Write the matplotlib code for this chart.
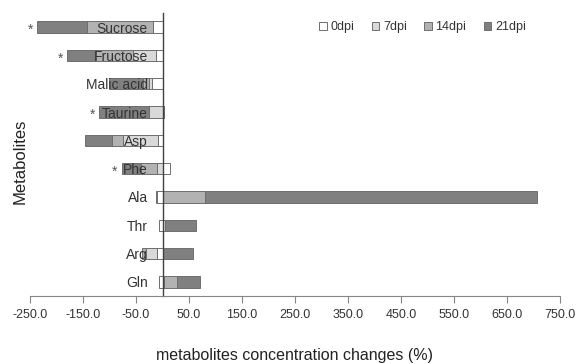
import numpy as np
import matplotlib
matplotlib.use("Agg")
import matplotlib.pyplot as plt
from matplotlib.patches import Patch

plt.rcParams['font.family'] = ['Liberation Sans', 'DejaVu Sans']

metabolites = ["Sucrose", "Fructose", "Malic acid", "Taurine", "Asp",
               "Phe", "Ala", "Thr", "Arg", "Gln"]
series_names = ["0dpi", "7dpi", "14dpi", "21dpi"]

# concentration changes (%) per time point
dpi0 = [-17, -13, -19, 2, -8, 15, -10, -7, -11, -7]
dpi7 = [0, -42, -6, -26, -66, -11, -3, 5, -21, 3]
dpi14 = [-126, -70, -11, 0, -21, -30, 81, 0, -6, 25]
dpi21 = [-94, -55, -64, -94, -51, -36, 626, 58, 57, 43]

significant = ["Sucrose", "Fructose", "Taurine", "Phe"]

colors = ["#ffffff", "#d9d9d9", "#b2b2b2", "#808080"]
edge = "#6e6e6e"

fig = plt.figure(figsize=(5.8, 3.64), dpi=100)
ax = fig.add_axes([30 / 580, 1 - 296 / 364, 530 / 580, 283 / 364])

ypos = np.arange(len(metabolites))
pos_base = np.zeros(len(metabolites))
neg_base = np.zeros(len(metabolites))
for name, vals, col in zip(series_names, [dpi0, dpi7, dpi14, dpi21], colors):
    vals = np.array(vals, dtype=float)
    left = np.where(vals >= 0, pos_base, neg_base)
    ax.barh(ypos, vals, left=left, height=0.4, color=col,
            edgecolor=edge, linewidth=0.7, label=name)
    pos_base += np.clip(vals, 0, None)
    neg_base += np.clip(vals, None, 0)

# asterisks beside the significant ones
for i, m in enumerate(metabolites):
    if m in significant:
        ax.annotate("*", xy=(neg_base[i], ypos[i]), xytext=(-3, -1),
                    textcoords="offset points", ha="right", va="center_baseline",
                    fontsize=10, color="#555555")

ax.set_xlim(-250, 750)
ax.set_ylim(len(metabolites) - 0.5, -0.5)
ax.set_xticks(np.arange(-250, 751, 100))
ax.set_xticklabels([f"{v:.1f}" for v in np.arange(-250, 751, 100)])
ax.set_yticks(ypos)
ax.set_yticklabels(metabolites)

ax.spines["left"].set_position(("data", 0))
ax.spines["left"].set_color("#404040")
ax.spines["left"].set_linewidth(1.0)
ax.spines["bottom"].set_color("#868686")
ax.spines["bottom"].set_linewidth(0.8)
ax.spines["top"].set_visible(False)
ax.spines["right"].set_visible(False)

ax.tick_params(axis="y", length=0, pad=10.5, labelsize=10, labelcolor="#333333")
ax.tick_params(axis="x", direction="out", length=5, width=0.8, color="#868686",
               pad=4.5, labelsize=9, labelcolor="#333333")

ax.set_xlabel("metabolites concentration changes (%)", fontsize=11.5,
              color="#222222", labelpad=19)
fig.text(20 / 580, 1 - 161 / 364, "Metabolites", rotation=90, fontsize=12,
         color="#222222", ha="center", va="center")

handles = [Patch(facecolor=c, edgecolor=edge, linewidth=0.7) for c in colors]
fig.legend(handles, series_names, loc="center left",
           bbox_to_anchor=(319 / 580, 1 - 27 / 364), ncol=4, frameon=False,
           fontsize=9, handlelength=0.6, handleheight=0.6, handletextpad=0.3,
           columnspacing=1.4, borderpad=0, borderaxespad=0,
           labelcolor="#333333")

fig.savefig("out.png", dpi=100)
